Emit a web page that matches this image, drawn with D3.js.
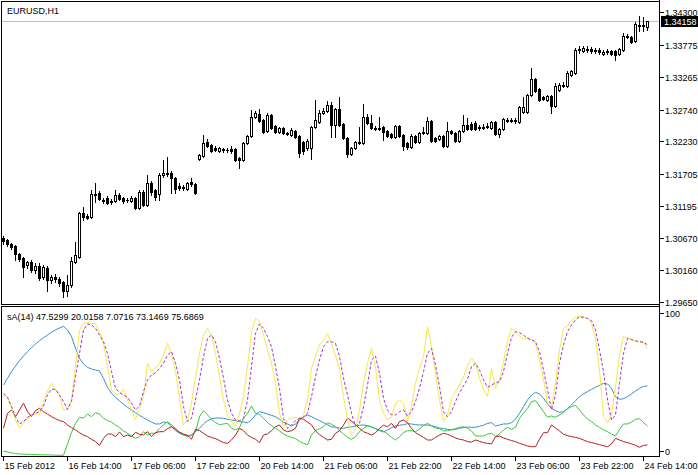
<!DOCTYPE html>
<html><head><meta charset="utf-8">
<script src="https://cdn.jsdelivr.net/npm/d3@7"></script>
<style>
body{margin:0;background:#fff}
svg{display:block}
text{font-family:"Liberation Sans",Arial,sans-serif;font-size:9px;fill:#000}
</style>
</head><body>
<svg id="c" width="698" height="475"></svg>
<script>
const symbol = "EURUSD,H1";
const indicatorName = "sA(14)";
const lastPrice = 1.34158;

const open = [1.30675,1.30643,1.30579,1.30547,1.30418,1.30354,1.30242,1.30290,1.30161,1.30225,1.30049,1.30193,1.30000,1.30049,1.30017,1.29968,1.29824,1.29920,1.30290,1.30370,
1.31077,1.31029,1.31013,1.31382,1.31398,1.31286,1.31318,1.31270,1.31270,1.31366,1.31318,1.31286,1.31270,1.31318,1.31157,1.31415,1.31206,1.31559,1.31447,1.31382,
1.31688,1.31720,1.31720,1.31640,1.31511,1.31495,1.31463,1.31575,1.31543,1.31945,1.31993,1.32218,1.32170,1.32122,1.32073,1.32106,1.32089,1.32106,1.32106,1.31961,
1.31929,1.32202,1.32314,1.32620,1.32668,1.32572,1.32395,1.32652,1.32475,1.32379,1.32443,1.32363,1.32331,1.32395,1.32314,1.32218,1.32122,1.32122,1.32459,1.32539,
1.32684,1.32716,1.32813,1.32491,1.32748,1.32507,1.32282,1.32025,1.32122,1.32202,1.32202,1.32620,1.32523,1.32443,1.32427,1.32459,1.32395,1.32347,1.32298,1.32475,
1.32331,1.32202,1.32138,1.32314,1.32218,1.32363,1.32363,1.32555,1.32282,1.32266,1.32314,1.32154,1.32395,1.32363,1.32234,1.32395,1.32491,1.32507,1.32523,1.32459,
1.32459,1.32459,1.32443,1.32539,1.32347,1.32427,1.32572,1.32555,1.32572,1.32539,1.32700,1.32700,1.32973,1.33230,1.33070,1.32941,1.32893,1.32957,1.32797,1.33054,
1.33118,1.33118,1.33295,1.33327,1.33697,1.33680,1.33713,1.33713,1.33697,1.33697,1.33632,1.33680,1.33680,1.33680,1.33632,1.33697,1.33921,1.33905,1.33841,1.34098,
1.34098,1.34066];
const high = [1.30708,1.30659,1.30595,1.30563,1.30434,1.30370,1.30306,1.30322,1.30274,1.30274,1.30242,1.30225,1.30081,1.30097,1.30049,1.29984,1.30081,1.30370,1.30611,1.31093,
1.31173,1.31061,1.31447,1.31559,1.31431,1.31318,1.31350,1.31302,1.31447,1.31398,1.31334,1.31318,1.31350,1.31334,1.31447,1.31447,1.31688,1.31592,1.31463,1.31720,
1.31929,1.31977,1.31752,1.31656,1.31559,1.31527,1.31575,1.31640,1.31559,1.32025,1.32331,1.32266,1.32186,1.32154,1.32138,1.32122,1.32122,1.32154,1.32122,1.31977,
1.32218,1.32331,1.32732,1.32716,1.32748,1.32588,1.32684,1.32668,1.32491,1.32459,1.32459,1.32379,1.32443,1.32411,1.32331,1.32234,1.32266,1.32475,1.32893,1.32732,
1.32764,1.32877,1.32861,1.32764,1.32941,1.32523,1.32298,1.32138,1.32234,1.32459,1.32829,1.32668,1.32652,1.32475,1.32620,1.32475,1.32411,1.32363,1.32491,1.32491,
1.32347,1.32218,1.32347,1.32331,1.32379,1.32459,1.32620,1.32572,1.32298,1.32331,1.32331,1.32539,1.32411,1.32379,1.32411,1.32652,1.32604,1.32539,1.32555,1.32491,
1.32507,1.32523,1.32555,1.32555,1.32443,1.32604,1.32604,1.32604,1.32604,1.32797,1.32941,1.32989,1.33407,1.33247,1.33086,1.32957,1.32973,1.32973,1.33166,1.33166,
1.33182,1.33359,1.33375,1.33729,1.33761,1.33761,1.33761,1.33745,1.33729,1.33729,1.33697,1.33713,1.33697,1.33697,1.33729,1.33970,1.33954,1.33921,1.34146,1.34243,
1.34227,1.34170];
const low = [1.30579,1.30547,1.30499,1.30322,1.30306,1.30049,1.30193,1.30129,1.30113,1.30000,1.30017,1.29824,1.29952,1.29968,1.29904,1.29727,1.29743,1.29888,1.30274,1.30354,
1.30965,1.30981,1.30997,1.31254,1.31286,1.31238,1.31222,1.31222,1.31254,1.31286,1.31238,1.31254,1.31254,1.31141,1.31141,1.31190,1.31190,1.31366,1.31286,1.31286,
1.31656,1.31672,1.31398,1.31398,1.31447,1.31447,1.31447,1.31511,1.31382,1.31929,1.31977,1.32138,1.32057,1.32073,1.32057,1.32057,1.32057,1.32041,1.31913,1.31800,
1.31913,1.32186,1.32298,1.32604,1.32539,1.32363,1.32379,1.32427,1.32363,1.32363,1.32347,1.32331,1.32314,1.32282,1.31977,1.32025,1.32089,1.31945,1.32443,1.32523,
1.32668,1.32700,1.32298,1.32298,1.32475,1.32266,1.31977,1.32009,1.32106,1.32186,1.32186,1.32507,1.32427,1.32411,1.32411,1.32250,1.32298,1.32282,1.32282,1.32298,
1.32089,1.32106,1.32122,1.32202,1.32202,1.32347,1.32347,1.32218,1.32218,1.32250,1.32138,1.32138,1.32347,1.32218,1.32218,1.32379,1.32411,1.32411,1.32411,1.32411,
1.32427,1.32443,1.32427,1.32331,1.32298,1.32411,1.32539,1.32539,1.32523,1.32523,1.32684,1.32684,1.32957,1.33022,1.32877,1.32893,1.32877,1.32684,1.32780,1.33038,
1.33102,1.33102,1.33279,1.33311,1.33648,1.33664,1.33664,1.33648,1.33648,1.33632,1.33616,1.33632,1.33616,1.33536,1.33616,1.33680,1.33889,1.33809,1.33825,1.34002,
1.34002,1.34018];
const close = [1.30627,1.30579,1.30531,1.30418,1.30338,1.30209,1.30290,1.30161,1.30225,1.30033,1.30209,1.30000,1.30049,1.30017,1.29952,1.29824,1.29920,1.30306,1.30402,1.31077,
1.31013,1.30997,1.31382,1.31366,1.31302,1.31270,1.31238,1.31254,1.31366,1.31302,1.31270,1.31286,1.31318,1.31157,1.31415,1.31206,1.31559,1.31415,1.31334,1.31688,
1.31720,1.31704,1.31640,1.31463,1.31479,1.31479,1.31559,1.31543,1.31398,1.32009,1.32202,1.32154,1.32073,1.32089,1.32122,1.32089,1.32089,1.32073,1.31929,1.31929,
1.32202,1.32314,1.32620,1.32684,1.32555,1.32379,1.32652,1.32443,1.32379,1.32443,1.32363,1.32347,1.32411,1.32298,1.32041,1.32073,1.32234,1.32459,1.32572,1.32684,
1.32716,1.32813,1.32491,1.32748,1.32491,1.32282,1.32025,1.32122,1.32218,1.32218,1.32620,1.32523,1.32443,1.32427,1.32443,1.32379,1.32314,1.32298,1.32475,1.32314,
1.32154,1.32138,1.32314,1.32218,1.32363,1.32379,1.32555,1.32234,1.32234,1.32314,1.32154,1.32395,1.32363,1.32234,1.32395,1.32491,1.32427,1.32427,1.32427,1.32443,
1.32443,1.32475,1.32539,1.32347,1.32427,1.32588,1.32555,1.32572,1.32555,1.32780,1.32780,1.32973,1.33230,1.33038,1.32893,1.32909,1.32957,1.32797,1.33118,1.33134,
1.33134,1.33327,1.33359,1.33697,1.33713,1.33729,1.33697,1.33680,1.33680,1.33664,1.33664,1.33664,1.33632,1.33616,1.33713,1.33921,1.33905,1.33825,1.34114,1.34082,
1.34090,1.34158];

const blue = [48.2,52.8,57.4,61.2,64.9,68.1,71.1,73.8,76.3,78.6,80.7,82.5,84.4,86.0,87.3,88.5,86.0,81.4,73.4,66.5,
62.6,60.3,59.2,58.5,57.8,52.8,46.6,42.5,39.8,37.3,35.0,32.9,31.1,29.2,27.4,25.8,24.2,22.8,21.5,21.5,
22.8,22.4,19.6,16.9,15.1,13.9,13.5,13.9,16.2,18.5,21.5,23.8,25.1,25.6,25.6,25.4,24.7,24.2,23.8,23.1,
22.8,22.4,24.2,27.7,29.9,29.2,28.3,27.4,26.5,24.7,22.8,21.5,20.1,21.5,24.2,26.5,27.7,26.5,25.1,23.8,
22.4,21.0,19.6,19.2,18.7,18.5,19.2,19.6,20.1,20.6,20.8,20.3,19.4,18.3,16.9,16.0,17.4,19.0,20.1,20.6,
21.0,21.7,21.5,21.0,20.8,20.8,20.8,20.3,19.6,18.7,18.3,17.8,17.4,17.8,18.5,19.0,19.4,19.2,19.2,19.9,
20.6,21.9,22.4,20.1,20.8,21.5,21.5,22.4,24.7,28.8,33.4,37.9,41.4,43.2,42.1,39.1,35.2,32.2,30.6,29.5,
29.9,32.0,34.5,37.5,40.2,42.1,43.7,45.3,46.6,48.0,49.4,48.9,45.9,40.2,38.4,38.8,40.2,42.1,44.1,45.9,
47.3,47.5299];
const green = [2.9,2.3,1.7,1.2,0.9,0.8,0.7,0.6,0.5,0.4,0.3,0.3,0.2,0.1,0.0,0.0,7.8,15.5,21.9,26.1,
25.4,28.3,26.5,29.3,28.3,25.4,23.8,22.8,20.8,19.0,16.7,15.1,13.2,11.6,12.8,16.2,13.9,15.1,15.1,18.5,
20.8,23.1,20.8,18.5,15.5,13.9,12.8,13.9,16.2,26.5,30.6,27.7,24.7,22.4,21.0,21.5,21.9,18.5,17.4,19.0,
25.4,28.8,33.8,28.8,28.1,25.4,22.4,20.3,18.5,16.7,14.6,13.2,12.3,11.4,9.6,8.2,7.3,13.9,16.9,18.3,
19.6,22.4,21.3,19.6,16.9,14.6,12.3,11.0,12.8,16.2,18.5,20.1,19.6,18.3,17.4,16.5,14.6,12.3,10.5,12.8,
15.5,16.9,16.9,16.2,18.1,20.3,21.9,20.1,18.7,18.3,16.7,16.9,17.6,18.3,19.2,19.6,18.5,16.7,13.2,13.2,
13.2,14.6,15.1,12.8,14.6,17.4,19.2,17.8,19.2,25.4,28.8,32.2,36.8,37.5,33.8,29.9,26.1,27.0,26.1,27.7,
29.2,32.0,33.4,34.3,31.1,27.7,24.9,23.1,20.8,19.2,17.4,16.2,14.6,13.2,17.8,21.5,21.5,22.8,24.7,25.1,
22.4,20.0158];
const red = [18.5,28.8,31.1,26.5,31.1,35.7,29.9,26.5,30.6,32.2,29.9,28.3,26.5,25.1,23.8,23.1,20.8,19.0,17.4,15.5,
13.9,12.8,11.0,9.4,6.8,11.6,14.6,14.6,12.8,16.0,12.8,13.9,12.8,15.8,14.4,13.9,16.2,12.8,15.5,16.2,
16.2,18.3,19.6,17.8,16.0,14.6,13.7,11.0,17.8,16.9,15.1,13.2,12.3,11.4,10.1,8.7,8.2,10.5,13.9,18.5,
16.9,13.9,12.3,11.0,8.7,13.9,14.6,16.9,19.6,20.8,17.4,16.2,16.9,18.5,25.4,24.7,22.8,20.8,16.7,14.2,
12.3,10.5,11.0,15.1,16.9,20.8,25.4,23.5,21.0,18.5,16.2,15.1,13.9,15.5,18.5,20.6,19.6,21.9,18.5,23.1,
24.2,22.4,18.5,15.5,13.9,12.3,10.5,10.5,12.3,13.9,15.1,14.4,13.2,11.9,11.0,10.5,9.4,9.1,10.5,9.6,
8.7,8.2,7.8,12.8,13.2,11.9,11.0,10.1,9.4,8.2,7.3,6.4,5.9,5.9,11.0,15.5,15.5,20.8,18.7,16.7,
14.4,13.5,12.8,12.3,11.6,10.5,9.4,8.7,8.0,7.3,6.6,5.9,7.8,11.6,10.5,9.4,8.7,7.8,6.8,5.5,
6.8,7.0716];
const yellow = [41.4,40.2,32.2,24.2,18.5,21.9,25.4,27.0,28.8,27.7,36.8,44.3,49.4,44.8,40.7,31.1,31.5,37.9,60.8,85.9,
90.5,91.0,90.5,90.1,84.8,76.8,60.8,44.8,41.8,42.1,45.3,37.9,31.1,24.7,32.2,40.2,63.1,57.4,59.7,63.1,
68.8,76.8,69.9,57.4,39.1,20.8,24.2,35.7,53.9,69.9,82.5,87.1,82.5,69.9,53.9,37.9,27.7,23.1,20.1,28.8,
40.2,60.8,84.8,93.9,91.7,82.5,72.2,63.1,49.4,28.8,19.6,24.2,25.4,26.1,25.4,27.7,37.9,59.7,67.7,75.7,
79.1,83.7,76.3,68.8,58.5,40.2,24.2,13.9,17.4,31.1,49.4,63.1,73.4,60.8,37.9,28.8,24.2,26.5,35.7,37.9,
35.7,23.1,33.4,49.4,59.7,67.7,88.2,74.5,56.2,37.9,23.1,27.7,39.1,43.7,48.2,53.5,61.9,66.5,63.1,52.8,
45.3,40.2,59.7,45.9,51.7,64.2,78.0,87.1,84.8,81.8,79.5,80.9,79.5,76.8,65.4,51.7,35.7,33.4,49.4,72.2,
87.1,88.7,92.3,94.6,95.5,95.1,93.7,90.5,80.2,58.5,26.5,22.4,27.7,47.1,68.8,81.4,80.4,79.1,78.2,77.7,
77.3,73.1469];
const purple = [42.5,39.8,33.4,26.5,21.5,23.1,26.1,27.7,28.8,29.9,33.8,41.4,45.3,45.3,41.4,36.8,31.5,36.8,53.9,69.9,
85.9,90.1,89.4,87.1,82.5,77.9,69.9,57.4,45.9,43.0,41.4,39.8,35.7,31.1,33.8,43.7,51.7,55.1,56.7,59.7,
63.1,68.8,71.1,63.1,51.7,33.4,23.1,25.4,37.9,51.7,67.7,80.2,82.5,77.9,66.5,52.8,37.9,28.8,24.2,23.8,
25.4,37.9,60.8,83.7,90.1,87.1,81.4,74.5,60.8,45.9,25.4,18.5,20.8,23.8,25.4,26.1,28.8,40.2,53.9,65.4,
74.5,77.9,77.9,76.8,67.7,52.8,41.4,28.8,20.1,21.9,33.4,48.2,65.4,68.1,56.2,39.1,31.1,27.7,27.7,29.9,
31.1,26.9,29.9,36.8,45.9,57.4,69.9,73.4,61.9,47.1,29.9,26.5,29.9,36.8,43.0,47.6,52.1,60.8,63.1,58.5,
51.7,46.6,48.2,49.8,50.5,57.4,69.9,80.9,84.8,84.1,82.5,80.2,79.1,77.9,71.1,58.5,44.8,31.1,41.4,63.1,
75.7,84.8,89.4,92.8,95.1,94.6,93.9,92.3,85.9,72.2,57.4,37.9,24.2,27.7,49.4,69.9,80.2,79.5,78.6,77.9,
77.7,75.6869];

const priceTicks = [1.34300,1.33775,1.33265,1.32740,1.32230,1.31705,1.31195,1.30670,1.30160,1.29650];
const indTicks = [100, 0];
const timeTickBars = [0,16,32,48,64,80,96,112,128,144,160];
const timeTickLabels = ["15 Feb 2012","16 Feb 14:00","17 Feb 06:00","17 Feb 22:00","20 Feb 14:00","21 Feb 06:00","21 Feb 22:00","22 Feb 14:00","23 Feb 06:00","23 Feb 22:00","24 Feb 14:00"];

const svg = d3.select("#c");
const n = close.length;
const x = d3.scaleLinear().domain([0, n - 1]).range([3, 3 + 4 * (n - 1)]);
const y = d3.scaleLinear().domain([1.2965, 1.3430]).range([301.8, 12.45]);
const yi = d3.scaleLinear().domain([0, 100]).range([455.3, 309.5]);

const AX = 659.5;
// current price line
svg.append("line").attr("x1", 2).attr("x2", AX).attr("y1", Math.round(y(lastPrice)) + 0.5).attr("y2", Math.round(y(lastPrice)) + 0.5)
  .attr("stroke", "#c0c0c0").attr("stroke-width", 1);

// candles
const bars = d3.range(n);
const g = svg.append("g").attr("shape-rendering", "crispEdges");
bars.forEach(i => {
  const cx = x(i);
  const yo = Math.round(y(open[i])), yc = Math.round(y(close[i]));
  const yh = Math.round(y(high[i])), yl = Math.round(y(low[i]));
  g.append("line").attr("x1", cx + 0.5).attr("x2", cx + 0.5).attr("y1", yh).attr("y2", yl + 1).attr("stroke", "#000");
  const top = Math.min(yo, yc), bot = Math.max(yo, yc);
  if (bot - top < 1) {
    g.append("line").attr("x1", cx - 1).attr("x2", cx + 2).attr("y1", top + 0.5).attr("y2", top + 0.5).attr("stroke", "#000");
  } else if (close[i] > open[i]) {
    g.append("rect").attr("x", cx - 0.5).attr("y", top + 0.5).attr("width", 2).attr("height", bot - top)
      .attr("fill", "#fff").attr("stroke", "#000");
  } else {
    g.append("rect").attr("x", cx - 1).attr("y", top).attr("width", 3).attr("height", bot - top + 1).attr("fill", "#000");
  }
});

// indicator lines
const line = d3.line().x((d, i) => x(i) + 0.5).y(d => yi(d));
const series = [
  {d: blue, c: "#3b8ed2", dash: null},
  {d: green, c: "#3ec43e", dash: null},
  {d: red, c: "#b02020", dash: null},
  {d: yellow, c: "#f4e94a", dash: null},
  {d: purple, c: "#a235c4", dash: "3,2"}
];
series.forEach(s => {
  svg.append("path").datum(s.d).attr("d", line).attr("fill", "none").attr("stroke", s.c)
    .attr("stroke-width", 1).attr("stroke-dasharray", s.dash);
});

// frames
const fr = svg.append("g").attr("stroke", "#000").attr("stroke-width", 1).attr("shape-rendering", "crispEdges");
fr.append("line").attr("x1", 1).attr("x2", AX).attr("y1", 1.5).attr("y2", 1.5);
fr.append("line").attr("x1", 1.5).attr("x2", 1.5).attr("y1", 1).attr("y2", 305);
fr.append("line").attr("x1", 1).attr("x2", AX).attr("y1", 304.5).attr("y2", 304.5);
fr.append("line").attr("x1", 1).attr("x2", AX).attr("y1", 306.5).attr("y2", 306.5);
fr.append("line").attr("x1", 1.5).attr("x2", 1.5).attr("y1", 306).attr("y2", 457);
fr.append("line").attr("x1", 1).attr("x2", AX).attr("y1", 456.5).attr("y2", 456.5);
fr.append("line").attr("x1", AX).attr("x2", AX).attr("y1", 0).attr("y2", 457);

// price axis
priceTicks.forEach(p => {
  const ty = Math.round(y(p)) + 0.5;
  fr.append("line").attr("x1", AX).attr("x2", AX + 4).attr("y1", ty).attr("y2", ty);
  svg.append("text").attr("x", 665).attr("y", ty + 3).text(p.toFixed(5));
});
// current price tag
const py = y(lastPrice);
svg.append("rect").attr("x", 661).attr("y", Math.round(py) - 5).attr("width", 37).attr("height", 11).attr("fill", "#000");
svg.append("text").attr("x", 664).attr("y", Math.round(py) + 3.5).style("fill", "#fff").text(lastPrice.toFixed(5));

// indicator axis
indTicks.forEach(v => {
  const ty = Math.round(Math.max(313, Math.min(451, yi(v)))) + 0.5;
  fr.append("line").attr("x1", AX).attr("x2", AX + 4).attr("y1", ty).attr("y2", ty);
  svg.append("text").attr("x", 665).attr("y", ty + 3).text(v);
});

// time axis
timeTickBars.forEach((b, k) => {
  const tx = x(b) + 0.5;
  fr.append("line").attr("x1", tx).attr("x2", tx).attr("y1", 457).attr("y2", 461);
  svg.append("text").attr("x", tx + 1).attr("y", 469).text(timeTickLabels[k]);
});

// titles
svg.append("text").attr("x", 7).attr("y", 13.5).text(symbol);
const last = n - 1;
svg.append("text").attr("x", 7).attr("y", 319.5)
  .text(`${indicatorName} ${blue[last].toFixed(4)} ${green[last].toFixed(4)} ${red[last].toFixed(4)} ${yellow[last].toFixed(4)} ${purple[last].toFixed(4)}`);
</script>
</body></html>
